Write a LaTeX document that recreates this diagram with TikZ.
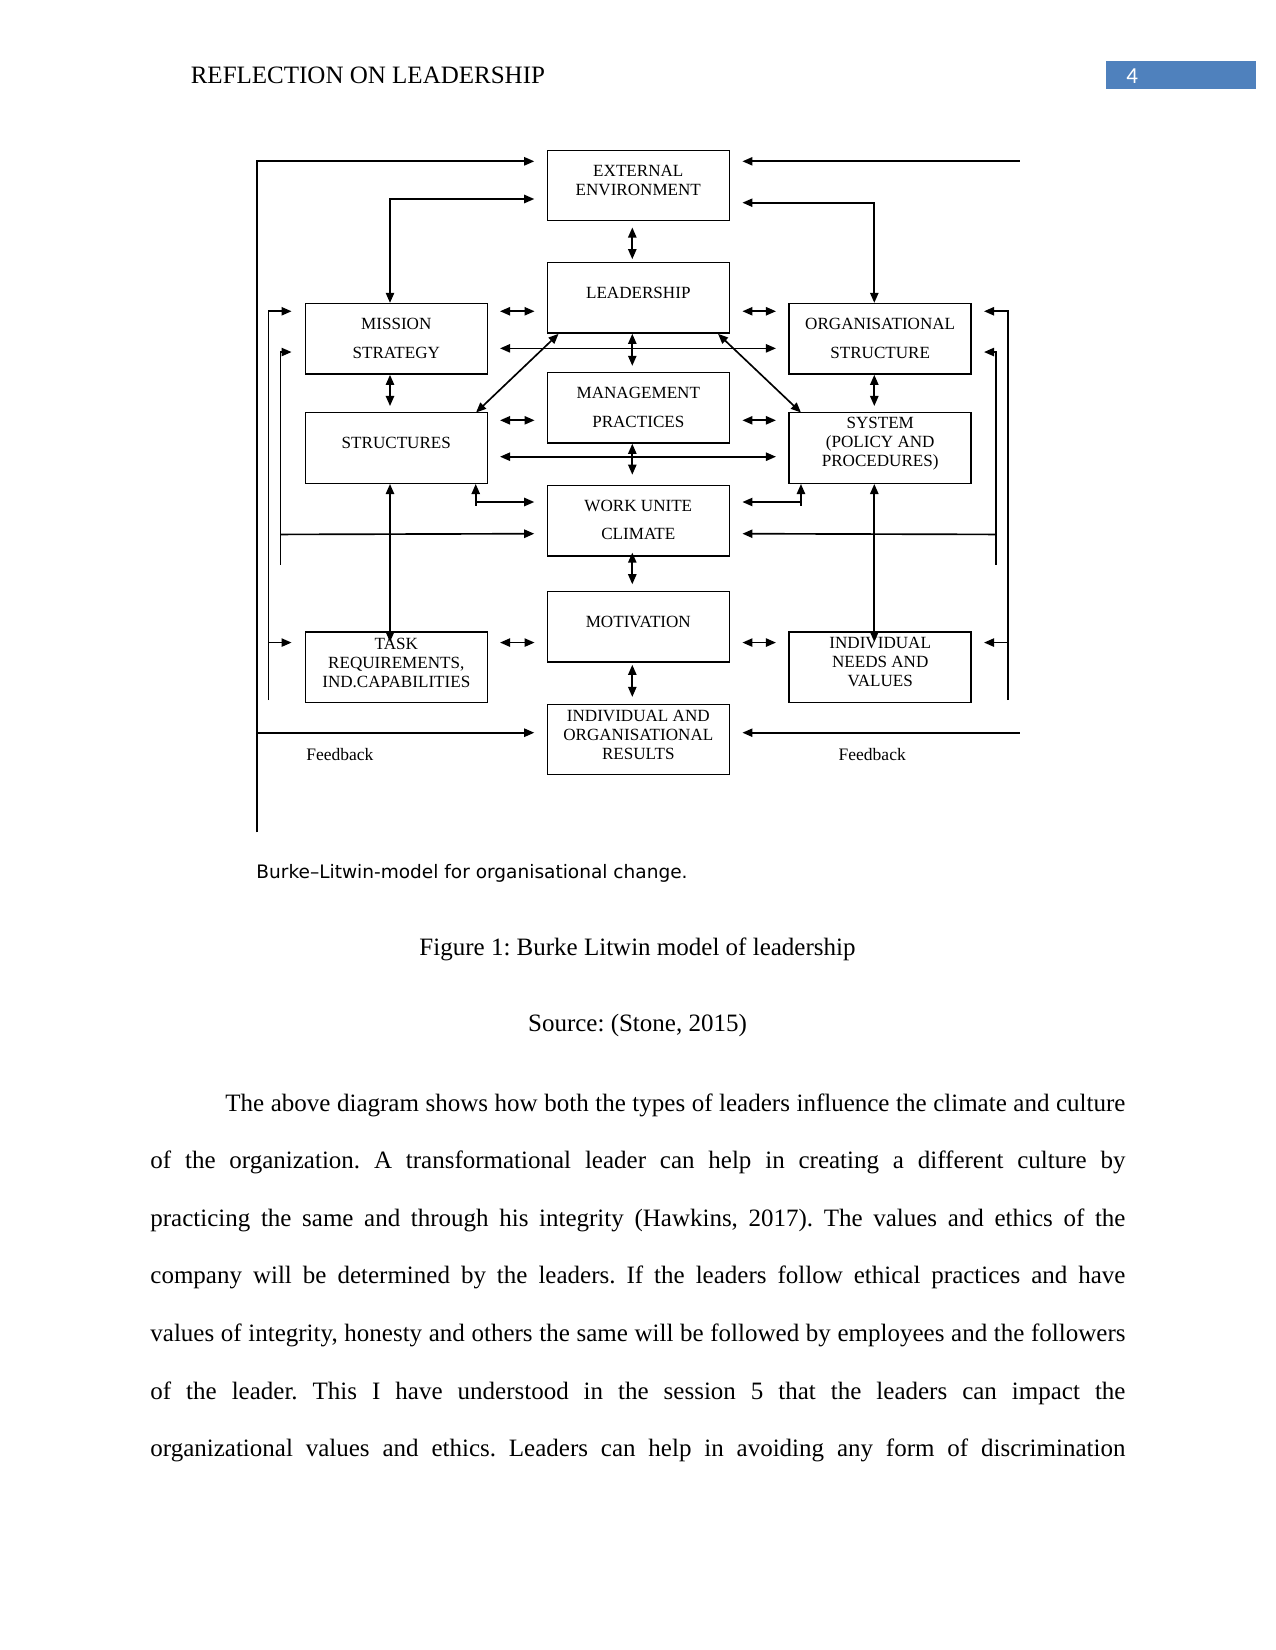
\documentclass[tikz,border=0pt]{standalone}
\usepackage{fontspec}
\setmainfont{Liberation Serif}
\newfontfamily\dfont{Liberation Serif}
\newfontfamily\capfont{DejaVu Sans}
\newfontfamily\numfont{Carlito}
\usetikzlibrary{arrows.meta,calc}
\definecolor{hdrblue}{RGB}{79,129,189}
\frenchspacing
\begin{document}
\begin{tikzpicture}[x=0.169333mm,y=-0.169333mm,
  box/.style={draw,line width=0.7pt,minimum width=30.82mm,minimum height=11.94mm,inner sep=0pt},
  lbl/.style={font=\dfont\fontsize{8.2bp}{9.12bp}\selectfont,align=center,inner sep=0pt},
  lblw/.style={lbl,font=\dfont\fontsize{8.2bp}{13.8bp}\selectfont},
  con/.style={line width=0.8pt,-{Triangle[length=1.7mm,width=1.4mm]}},
  dbl/.style={line width=0.8pt,{Triangle[length=1.7mm,width=1.4mm]}-{Triangle[length=1.7mm,width=1.4mm]}},
  pline/.style={anchor=base west,inner sep=0pt,font=\frenchspacing\fontsize{12bp}{14bp}\selectfont}]
\useasboundingbox (0,0) rectangle (1275,1650);
\fill[white] (0,0) rectangle (1275,1650);

% header
\node[anchor=base west,inner sep=0pt,font=\fontsize{12bp}{14bp}\selectfont] (hdr) at (190.4,83) {REFLECTION ON LEADERSHIP};
\fill[hdrblue] (1106,61) rectangle (1255.7,88.7);
\node[anchor=base west,inner sep=0pt,text=white,font=\numfont\fontsize{11bp}{13bp}\selectfont] (pgno) at (1126,83) {4};

% boxes
\node[box] (ext)  at (638.3,185.5) {};
\node[box] (lead) at (638.3,297.85) {};
\node[box] (mgmt) at (638.3,407.8) {};
\node[box] (work) at (638.3,520.65) {};
\node[box] (mot)  at (638.3,626.85) {};
\node[box] (res)  at (638.3,739.5) {};
\node[box] (mis)  at (396.3,338.85) {};
\node[box] (str)  at (396.3,448) {};
\node[box] (task) at (396.3,667.15) {};
\node[box] (org)  at (880.2,338.85) {};
\node[box] (sys)  at (880.2,448) {};
\node[box] (ind)  at (880.2,667.15) {};

% box texts
\node[lbl]  (ext-t)  at (638.3,180.5) {EXTERNAL\\ENVIRONMENT};
\node[lbl]  (lead-t) at (638.3,292.7) {LEADERSHIP};
\node[lblw] (mgmt-t) at (638.3,407.5) {MANAGEMENT\\PRACTICES};
\node[lblw] (work-t) at (638.3,519.9) {WORK UNITE\\CLIMATE};
\node[lbl]  (mot-t)  at (638.3,621.7) {MOTIVATION};
\node[lbl]  (res-t)  at (638.3,734.5) {INDIVIDUAL AND\\ORGANISATIONAL\\RESULTS};
\node[lblw] (mis-t)  at (396.3,338.4) {MISSION\\STRATEGY};
\node[lbl]  (str-t)  at (396.3,442.7) {STRUCTURES};
\node[lbl]  (task-t) at (396.3,662.5) {TASK\\REQUIREMENTS,\\IND.CAPABILITIES};
\node[lblw] (org-t)  at (880.2,338.4) {ORGANISATIONAL\\STRUCTURE};
\node[lbl]  (sys-t)  at (880.2,443.5) {SYSTEM\\(POLICY AND\\PROCEDURES)};
\node[lbl]  (ind-t)  at (880.2,661.7) {INDIVIDUAL\\NEEDS AND\\VALUES};
\node[anchor=base west,inner sep=0pt,font=\dfont\fontsize{8.4bp}{10bp}\selectfont] (fbl) at (306,760) {Feedback};
\node[anchor=base west,inner sep=0pt,font=\dfont\fontsize{8.4bp}{10bp}\selectfont] (fbr) at (838.3,760) {Feedback};

% central vertical double arrows
\draw[dbl] ($(ext.south)+(-6,6)$) -- ($(lead.north)+(-6,-2.7)$);
\draw[dbl] ($(lead.south)+(-6,0)$) -- ($(mgmt.north)+(-6,-6)$);
\draw[dbl] ($(mgmt.south)+(-6,0)$) -- ($(work.north)+(-6,-10)$);
\draw[dbl] ($(work.south)+(-6,-4)$) -- ($(mot.north)+(-6,-6.6)$);
\draw[dbl] ($(mot.south)+(-6,2)$) -- ($(res.north)+(-6,-6.6)$);
\draw[dbl] ($(mis.south)+(-6.3,0)$) -- ($(str.north)+(-6.3,-6)$);
\draw[dbl] ($(org.south)+(-5.9,0)$) -- ($(sys.north)+(-5.9,-6)$);

% horizontal double arrows
\draw[dbl] ($(mis.north east)+(12,8.4)$) -- ($(lead.west|-mis.north)+(-12,8.4)$);
\draw[dbl] ($(lead.east|-org.north)+(12.4,8.4)$) -- ($(org.north west)+(-12.5,8.4)$);
\draw[dbl] ($(str.north east)+(12,8.3)$) -- ($(mgmt.west|-str.north)+(-12,8.3)$);
\draw[dbl] ($(mgmt.east|-sys.north)+(12.4,8.3)$) -- ($(sys.north west)+(-12.5,8.3)$);
\draw[dbl] ($(task.north east)+(12,11.4)$) -- ($(mot.west|-task.north)+(-12,11.4)$);
\draw[dbl] ($(mot.east|-ind.north)+(12.4,11.4)$) -- ($(ind.north west)+(-12.5,11.4)$);
\draw[dbl] ($(mis.east)+(12,9.5)$) -- ($(org.west)+(-12.5,9.5)$);
\draw[dbl] ($(str.east)+(12,8.7)$) -- ($(sys.west)+(-12.5,8.7)$);

% diagonals
\draw[dbl] ($(lead.south west)+(12,0)$) -- ($(str.north east)+(-12,0.5)$);
\draw[dbl] ($(lead.south east)+(-12,0)$) -- ($(sys.north west)+(12.5,0.5)$);

% external environment links
\coordinate (fbL) at (256.7,832.3);
\draw[con] (fbL) |- ($(ext.north west)+(-12.3,11.8)$);
\draw[con] (fbL |- res.west) ++(0,-6.8) -- ($(res.west)+(-12.3,-6.8)$);
\draw[con] ($(ext.north east)+(289.7,11.8)$) -- ($(ext.north east)+(12.4,11.8)$);
\draw[con] ($(res.east)+(289.7,-6.8)$) -- ($(res.east)+(12.4,-6.8)$);
\draw[dbl] ($(mis.north)+(-6.3,0)$) |- ($(ext.west)+(-12.3,13.5)$);
\draw[dbl] ($(org.north)+(-5.9,0)$) |- ($(ext.east)+(12.4,17.2)$);

% structures / system to work unit
\draw[dbl] ($(str.south east)+(-12.3,0)$) |- ($(work.west)+(-12.3,-18.65)$);
\draw[line width=0.8pt] ($(str.south east)+(-12.3,18)$) -- ($(str.south east)+(-12.3,22)$);
\draw[dbl] ($(sys.south west)+(12.5,0)$) |- ($(work.east)+(12.4,-18.65)$);
\draw[line width=0.8pt] ($(sys.south west)+(12.5,18)$) -- ($(sys.south west)+(12.5,22)$);

% task / individual verticals
\draw[dbl] ($(str.south)+(-6.3,0)$) -- ($(task.north)+(-6.3,10.8)$);
\draw[dbl] ($(sys.south)+(-5.9,0)$) -- ($(ind.north)+(-5.9,10.8)$);

% left inner feedback
\draw[con] ($(task.south west)+(-36,-3)$) |- ($(mis.north west)+(-13,8.4)$);
\draw[con] ($(task.north west)+(-36,11.4)$) -- ($(task.north west)+(-13,11.4)$);
\draw[con] ($(str.south west)+(-24,80.75)$) |- ($(mis.south west)+(-13,-22.8)$);
\draw[con] ($(str.south west)+(-24,50.45)$) -- ($(work.west)+(-12.3,13.05)$);

% right inner feedback
\draw[con] ($(ind.south east)+(36.1,-3)$) |- ($(org.north east)+(12.1,8.4)$);
\draw[con] ($(ind.north east)+(36.1,11.4)$) -- ($(ind.north east)+(12.1,11.4)$);
\draw[con] ($(sys.south east)+(23.8,80.75)$) |- ($(org.south east)+(12.1,-22.8)$);
\draw[con] ($(sys.south east)+(23.8,50.45)$) -- ($(work.east)+(12.4,13.05)$);

% diagram caption
\node[anchor=base west,inner sep=0pt,font=\capfont\fontsize{8.9bp}{10bp}\selectfont] (dcap) at (256,878.3) {Burke–Litwin-model for organisational change.};

% figure caption
\node[anchor=base,inner sep=0pt,font=\fontsize{12bp}{14bp}\selectfont] (fcap) at (637.5,955) {Figure 1: Burke Litwin model of leadership};
\node[anchor=base,inner sep=0pt,font=\fontsize{12bp}{14bp}\selectfont] (src) at (637.5,1031.7) {Source: (Stone, 2015)};

% body text
\node[pline] (p1) at (225,1111) {\makebox[6in][s]{The above diagram shows how both the types of leaders influence the climate and culture}};
\node[pline] (p2) at (150,1168.6) {\makebox[6.5in][s]{of the organization. A transformational leader can help in creating a different culture by}};
\node[pline] (p3) at (150,1226.2) {\makebox[6.5in][s]{practicing the same and through his integrity (Hawkins, 2017). The values and ethics of the}};
\node[pline] (p4) at (150,1283.8) {\makebox[6.5in][s]{company will be determined by the leaders. If the leaders follow ethical practices and have}};
\node[pline] (p5) at (150,1341.4) {\makebox[6.5in][s]{values of integrity, honesty and others the same will be followed by employees and the followers}};
\node[pline] (p6) at (150,1399) {\makebox[6.5in][s]{of the leader. This I have understood in the session 5 that the leaders can impact the}};
\node[pline] (p7) at (150,1456.6) {\makebox[6.5in][s]{organizational values and ethics. Leaders can help in avoiding any form of discrimination}};
\end{tikzpicture}
\end{document}
